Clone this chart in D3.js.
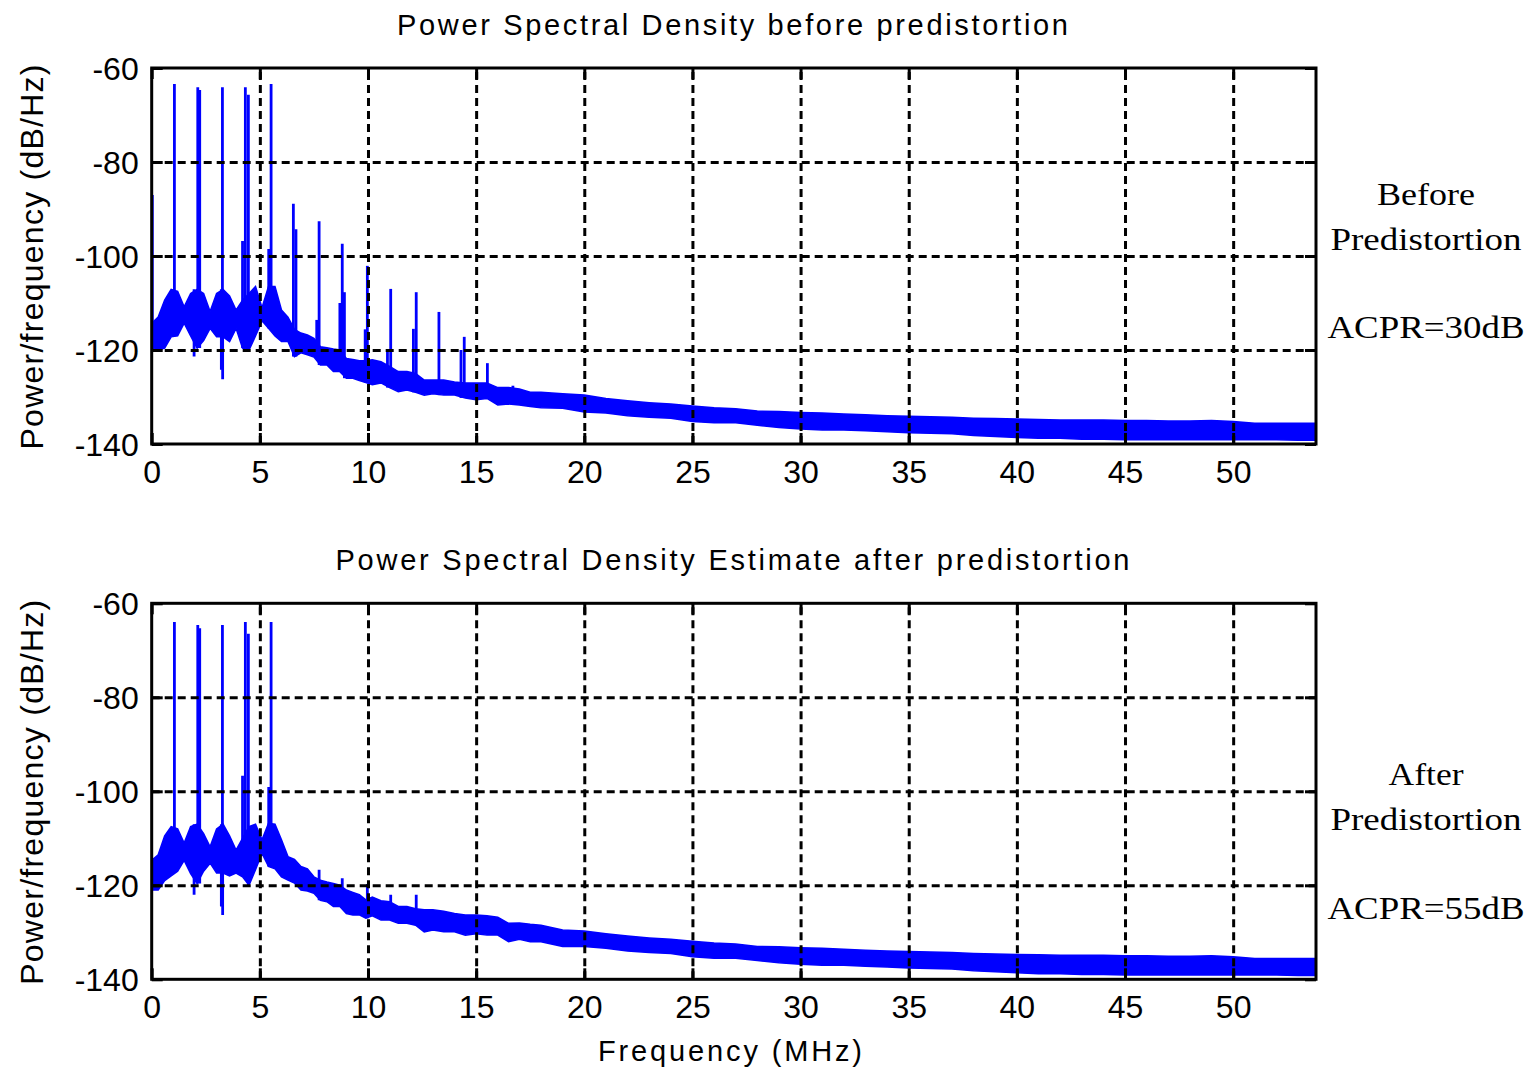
<!DOCTYPE html>
<html>
<head>
<meta charset="utf-8">
<script src="https://cdn.jsdelivr.net/npm/d3@7"></script>
<style>
  body { margin: 0; background: #fff; }
  svg { display: block; }
</style>
</head>
<body>
<div id="chart"></div>
<script>
// frequency samples (MHz) where the noise band edges were read
const bandFreq = [0, 0.3, 0.6, 0.9, 1.2, 1.5, 1.8, 2.1, 2.4, 2.7, 3.0, 3.3, 3.6, 3.9, 4.2, 4.5, 4.8, 5.1, 5.4, 5.7,
  6.0, 6.3, 6.6, 6.9, 7.2, 7.5, 7.8, 8.1, 8.4, 8.7, 9.0, 9.3, 9.6, 9.9, 10.2,
  10.6, 11.0, 11.4, 11.8, 12.2, 12.6, 13.0, 13.5, 14.0, 14.5, 15.0, 15.5, 16.0, 16.5, 17.0, 17.5, 18.0,
  19, 20, 21, 22, 23, 24, 25, 26, 27, 28, 29, 30, 31, 32, 33, 34, 35, 36, 37, 38, 39, 40,
  41, 42, 43, 44, 45, 46, 47, 48, 49, 50, 51, 52, 53, 53.83];

// before predistortion: upper / lower edge of the noise band (dB/Hz)
const beforeHi = [-114.3, -113, -109.4, -107.1, -107.5, -110.8, -108, -107.1, -108, -111.8, -108, -107.1, -108.5, -111.5, -109.4, -108, -106.5, -111, -106.5, -106.5,
  -111.5, -113, -115.6, -116.4, -116.8, -117.5, -119.3, -119.5, -119.8, -120, -121.8, -122, -122.3, -122.3, -122.1,
  -122.5, -123.5, -124.6, -124.6, -125, -126.4, -126.4, -126.4, -126.8, -127, -127, -127, -128, -128, -128.3, -129, -129,
  -129.3, -129.6, -130.3, -130.8, -131.2, -131.5, -131.9, -132.3, -132.5, -133, -133.1, -133.3, -133.4, -133.6, -133.8, -134, -134.1, -134.2, -134.3, -134.5, -134.6, -134.7,
  -134.8, -134.9, -134.9, -134.9, -135, -135, -135.1, -135.1, -135, -135.2, -135.6, -135.6, -135.6, -135.6];
const beforeLo = [-119.6, -120, -119.6, -117.2, -117, -114.3, -117, -119.6, -118, -115.4, -117.2, -117.2, -118.2, -115.4, -119.6, -120, -117, -113.8, -115.4, -117,
  -118.2, -118.2, -121.4, -120.6, -121, -121.5, -123.2, -123.2, -124.6, -124.6, -126, -126, -126.5, -126.9, -127.4,
  -127, -128, -128.9, -128.5, -129, -129.6, -129.3, -129.6, -129.6, -130.2, -130.6, -130.3, -131.7, -131.5, -131.7, -132, -132.3,
  -132.4, -133.2, -133.4, -134, -134.3, -134.5, -135.2, -135.5, -135.5, -136, -136.5, -136.8, -137, -137, -137.2, -137.4, -137.6, -137.7, -137.8, -138.2, -138.4, -138.6,
  -138.8, -138.8, -139, -139, -139.1, -139.1, -139.1, -139.1, -139.1, -139.1, -139.1, -139.1, -139.2, -139.2];

// after predistortion
const afterHi = [-114.7, -113.5, -109.5, -107.5, -108, -111, -107.5, -107, -109, -111.8, -108, -107, -109.5, -112.5, -110, -107.5, -107, -110.3, -106.8, -107,
  -110.3, -113.9, -114.5, -116, -116.5, -118.2, -118.9, -119.3, -119.6, -120, -121, -121.5, -122, -123.1, -122.5,
  -123.3, -123.5, -124.5, -124.5, -125, -125.2, -125.2, -125.5, -126, -126.3, -126.3, -126.5, -126.8, -128.1, -128, -128.3, -128.5,
  -129.5, -129.7, -130.3, -130.8, -131.2, -131.5, -131.9, -132.3, -132.5, -133, -133.1, -133.3, -133.4, -133.6, -133.8, -134, -134.1, -134.2, -134.3, -134.5, -134.6, -134.7,
  -134.8, -134.9, -134.9, -134.9, -135, -135, -135.1, -135.1, -135, -135.2, -135.6, -135.6, -135.6, -135.6];
const afterLo = [-121, -121, -119, -118, -117, -114.7, -117.5, -119.6, -117, -115.3, -117.4, -117.4, -118, -117.4, -118.2, -120, -116.7, -113.2, -116, -116.5,
  -118.2, -118.9, -119.5, -121, -121.2, -121.7, -123.2, -123.5, -124.5, -124.5, -126, -126.3, -126.3, -127, -126.5,
  -127.4, -127.4, -128.1, -128.1, -128.5, -129.9, -129.5, -129.9, -129.9, -130.6, -130.3, -130.6, -130.6, -132, -131.5, -132, -132,
  -133, -133, -133.4, -134, -134.3, -134.5, -135.2, -135.5, -135.5, -136, -136.5, -136.8, -137, -137, -137.2, -137.4, -137.6, -137.7, -137.8, -138.2, -138.4, -138.6,
  -138.8, -138.8, -139, -139, -139.1, -139.1, -139.1, -139.1, -139.1, -139.1, -139.1, -139.1, -139.2, -139.2];

// narrow tones and dips (MHz, dB/Hz)
const beforeSpikeFreq = [0.03, 1.05, 2.13, 2.22, 3.27, 4.2, 4.33, 4.47, 5.41, 5.52, 6.55, 6.67, 7.63, 7.74, 8.7, 8.81, 8.91,
  9.87, 9.97, 10.9, 11.05, 12.1, 12.23, 13.28, 14.3, 14.45, 15.52, 16.7, 1.96, 3.22, 3.28];
const beforeSpikePeak = [-87, -63.4, -64.1, -64.7, -64.1, -96.8, -64.1, -65.7, -98.5, -63.4, -88.9, -94.3, -113.6, -92.6, -110, -97.4, -107.7,
  -115.6, -102.1, -120.4, -107, -115.5, -107.7, -111.9, -120, -117.2, -122.8, -127.6, -121.4, -124.2, -126.2];
const afterSpikeFreq = [1.05, 2.13, 2.22, 3.27, 4.2, 4.33, 4.47, 5.41, 5.52, 7.74, 8.81, 9.97, 11.05, 12.23, 1.96, 3.22, 3.28];
const afterSpikePeak = [-64, -64.6, -65.3, -64.6, -96.7, -64, -66.5, -99.1, -64, -116.7, -118.5, -119.7, -122, -122, -122, -124.5, -126.3];

const xTicks = [0, 5, 10, 15, 20, 25, 30, 35, 40, 45, 50];
const yTicks = [-60, -80, -100, -120, -140];
const beforeNotes = ["Before", "Predistortion", "ACPR=30dB"];
const afterNotes = ["After", "Predistortion", "ACPR=55dB"];

const svgWidth = 1539;
const svgHeight = 1072;
const plotLeft = 151.7, plotRight = 1316, plotH = 376;
const sansFont = "'Liberation Sans', Arial, sans-serif";
const serifFont = "'Liberation Serif', 'Times New Roman', serif";

const svg = d3.select("#chart")
  .append("svg")
  .attr("width", svgWidth)
  .attr("height", svgHeight);

const xScale = d3.scaleLinear()
  .domain([0, 53.83])
  .range([plotLeft, plotRight]);

const panels = [
  { top: 68, title: "Power Spectral Density before predistortion", titleLen: 671,
    hi: beforeHi, lo: beforeLo, spikeF: beforeSpikeFreq, spikeV: beforeSpikePeak,
    notes: beforeNotes, noteY: [205, 250, 338], noteLen: [98, 191, 197] },
  { top: 603.3, title: "Power Spectral Density Estimate after predistortion", titleLen: 794,
    hi: afterHi, lo: afterLo, spikeF: afterSpikeFreq, spikeV: afterSpikePeak,
    notes: afterNotes, noteY: [785, 830, 919], noteLen: [75, 191, 197] }
];

panels.forEach((p, k) => {
  const bottom = p.top + plotH;
  const yScale = d3.scaleLinear()
    .domain([-140, -60])
    .range([bottom, p.top]);

  const clipId = "clip" + k;
  svg.append("clipPath").attr("id", clipId)
    .append("rect")
    .attr("x", plotLeft).attr("y", p.top)
    .attr("width", plotRight - plotLeft).attr("height", plotH);

  const g = svg.append("g").attr("clip-path", `url(#${clipId})`);

  // noise band
  const band = bandFreq.map((f, i) => ({ f: f, hi: p.hi[i], lo: p.lo[i] }));
  const area = d3.area()
    .x(d => xScale(d.f))
    .y0(d => yScale(d.lo))
    .y1(d => yScale(d.hi));
  g.append("path")
    .datum(band)
    .attr("d", area)
    .attr("fill", "#0000ff")
    .attr("stroke", "#0000ff")
    .attr("stroke-width", 1.5);

  // tones: from the nearest band edge to the read peak
  const spikes = p.spikeF.map((f, i) => {
    const j = d3.minIndex(bandFreq, b => Math.abs(b - f));
    const base = p.spikeV[i] > p.hi[j] ? p.lo[j] : p.hi[j];
    return { f: f, v: p.spikeV[i], base: base };
  });
  g.selectAll(".spike")
    .data(spikes)
    .enter()
    .append("line")
    .attr("class", "spike")
    .attr("x1", d => xScale(d.f))
    .attr("x2", d => xScale(d.f))
    .attr("y1", d => yScale(d.base))
    .attr("y2", d => yScale(d.v))
    .attr("stroke", "#0000ff")
    .attr("stroke-width", 2.8);

  // dashed grid on top of the data
  const xGrid = svg.append("g")
    .attr("transform", `translate(0,${bottom})`)
    .call(d3.axisBottom(xScale).tickValues(xTicks.slice(1)).tickSize(-plotH).tickFormat(""));
  xGrid.select(".domain").remove();
  xGrid.selectAll(".tick line")
    .attr("stroke", "#000")
    .attr("stroke-width", 3)
    .attr("stroke-dasharray", "8,5");

  const yGrid = svg.append("g")
    .attr("transform", `translate(${plotLeft},0)`)
    .call(d3.axisLeft(yScale).tickValues(yTicks.slice(1, -1)).tickSize(-(plotRight - plotLeft)).tickFormat(""));
  yGrid.select(".domain").remove();
  yGrid.selectAll(".tick line")
    .attr("stroke", "#000")
    .attr("stroke-width", 3)
    .attr("stroke-dasharray", "8,5");

  // inward ticks on all four sides
  const tickLen = -11;
  const sides = [
    [d3.axisBottom(xScale).tickValues(xTicks), `translate(0,${bottom})`],
    [d3.axisTop(xScale).tickValues(xTicks), `translate(0,${p.top})`],
    [d3.axisLeft(yScale).tickValues(yTicks), `translate(${plotLeft},0)`],
    [d3.axisRight(yScale).tickValues(yTicks), `translate(${plotRight},0)`]
  ];
  sides.forEach(([ax, tr]) => {
    const t = svg.append("g")
      .attr("transform", tr)
      .call(ax.tickSize(tickLen).tickFormat(""));
    t.select(".domain").remove();
    t.selectAll(".tick line").attr("stroke", "#000").attr("stroke-width", 3);
  });

  // frame
  svg.append("rect")
    .attr("x", plotLeft).attr("y", p.top)
    .attr("width", plotRight - plotLeft).attr("height", plotH)
    .attr("fill", "none")
    .attr("stroke", "#000")
    .attr("stroke-width", 3);

  // tick labels (plain hyphen minus, as in the original)
  const xLab = svg.append("g")
    .attr("transform", `translate(0,${bottom})`)
    .call(d3.axisBottom(xScale).tickValues(xTicks).tickSize(0).tickPadding(16).tickFormat(d => String(d)));
  xLab.select(".domain").remove();
  xLab.selectAll("text")
    .attr("fill", "#000")
    .style("font-family", sansFont)
    .style("font-size", "32px");

  const yLab = svg.append("g")
    .attr("transform", `translate(${plotLeft},0)`)
    .call(d3.axisLeft(yScale).tickValues(yTicks).tickSize(0).tickPadding(13).tickFormat(d => String(d)));
  yLab.select(".domain").remove();
  yLab.selectAll("text")
    .attr("fill", "#000")
    .attr("dy", "0.36em")
    .style("font-family", sansFont)
    .style("font-size", "32px");

  // title
  svg.append("text")
    .attr("x", 732.5)
    .attr("y", p.top - 33)
    .attr("text-anchor", "middle")
    .attr("textLength", p.titleLen)
    .attr("lengthAdjust", "spacing")
    .style("font-family", sansFont)
    .style("font-size", "29px")
    .text(p.title);

  // y label
  svg.append("text")
    .attr("transform", `translate(43,${p.top + 189}) rotate(-90)`)
    .attr("text-anchor", "middle")
    .attr("textLength", 385)
    .attr("lengthAdjust", "spacing")
    .style("font-family", sansFont)
    .style("font-size", "32px")
    .text("Power/frequency (dB/Hz)");

  // side notes
  p.notes.forEach((n, i) => {
    svg.append("text")
      .attr("x", 1426)
      .attr("y", p.noteY[i])
      .attr("text-anchor", "middle")
      .attr("textLength", p.noteLen[i])
      .attr("lengthAdjust", "spacingAndGlyphs")
      .style("font-family", serifFont)
      .style("font-size", "31px")
      .text(n);
  });
});

// x label
svg.append("text")
  .attr("x", 730)
  .attr("y", 1061)
  .attr("text-anchor", "middle")
  .attr("textLength", 264)
  .attr("lengthAdjust", "spacing")
  .style("font-family", sansFont)
  .style("font-size", "29px")
  .text("Frequency (MHz)");
</script>
</body>
</html>
